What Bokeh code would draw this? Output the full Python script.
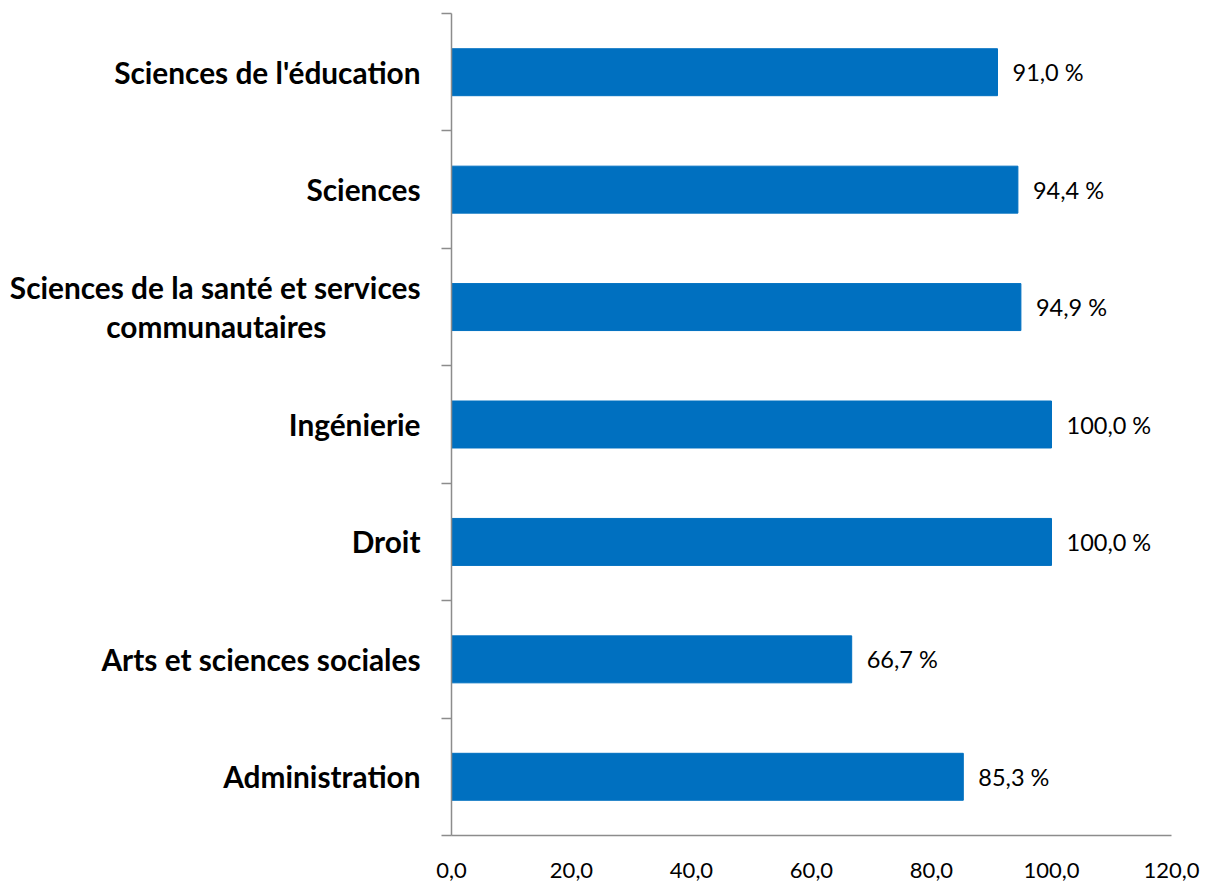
from bokeh.plotting import figure
from bokeh.models import Range1d, FixedTicker, ColumnDataSource
from bokeh.core.properties import value
from bokeh.embed import file_html
from bokeh.resources import INLINE

NB = "\u00a0"
categories = ["Administration", "Arts et sciences sociales", "Droit", "Ingénierie",
              "Sciences de la santé et services\ncommunautaires" + NB * 13, "Sciences",
              "Sciences de l'éducation"]
values = [85.3, 66.7, 100.0, 100.0, 94.9, 94.4, 91.0]
x_ticks = [0, 20, 40, 60, 80, 100, 120]

FONT = "Lato"

pos = [i + 0.5 for i in range(len(categories))]
labels = [("%.1f" % v).replace(".", ",") + " %" for v in values]
src = ColumnDataSource(dict(y=pos, v=values, lab=labels))

p = figure(width=1200, height=881, output_backend="svg", toolbar_location=None,
           x_range=Range1d(0, 120), y_range=Range1d(0, len(categories)),
           min_border_left=451, min_border_right=29, min_border_top=13, min_border_bottom=46)
p.outline_line_color = None
p.grid.visible = False

p.hbar(y="y", right="v", left=0, height=0.40, color="#0070C0", source=src)
p.text(x="v", y="y", text="lab", source=src, x_offset=15, text_align="left",
       text_baseline="middle", text_font=value(FONT), text_font_size="23.5px",
       text_color="#000000")

xa = p.xaxis[0]
xa.ticker = FixedTicker(ticks=x_ticks)
xa.major_label_overrides = {t: ("%.1f" % t).replace(".", ",") for t in x_ticks}
xa.major_tick_out = 0
xa.major_tick_in = 0
xa.minor_tick_out = 0
xa.minor_tick_in = 0
xa.axis_line_color = "#8c8c8c"
xa.axis_line_width = 1.5
xa.major_label_text_font = FONT
xa.major_label_text_font_size = "22px"
xa.major_label_text_line_height = 0.8
xa.major_label_text_color = "#000000"
xa.major_label_standoff = 27

ya = p.yaxis[0]
ya.ticker = FixedTicker(ticks=pos, minor_ticks=list(range(len(categories) + 1)))
ya.major_label_overrides = {pp: c for pp, c in zip(pos, categories)}
ya.major_tick_out = 0
ya.major_tick_in = 0
ya.minor_tick_out = 10
ya.minor_tick_in = 0
ya.minor_tick_line_color = "#8c8c8c"
ya.minor_tick_line_width = 1.5
ya.axis_line_color = "#8c8c8c"
ya.axis_line_width = 1.5
ya.major_label_text_font = FONT
ya.major_label_text_font_size = "29.8px"
ya.major_label_text_line_height = 1.12
ya.major_label_text_font_style = "bold"
ya.major_label_text_color = "#000000"
ya.major_label_standoff = 21

open("out.html", "w").write(file_html(p, INLINE))
